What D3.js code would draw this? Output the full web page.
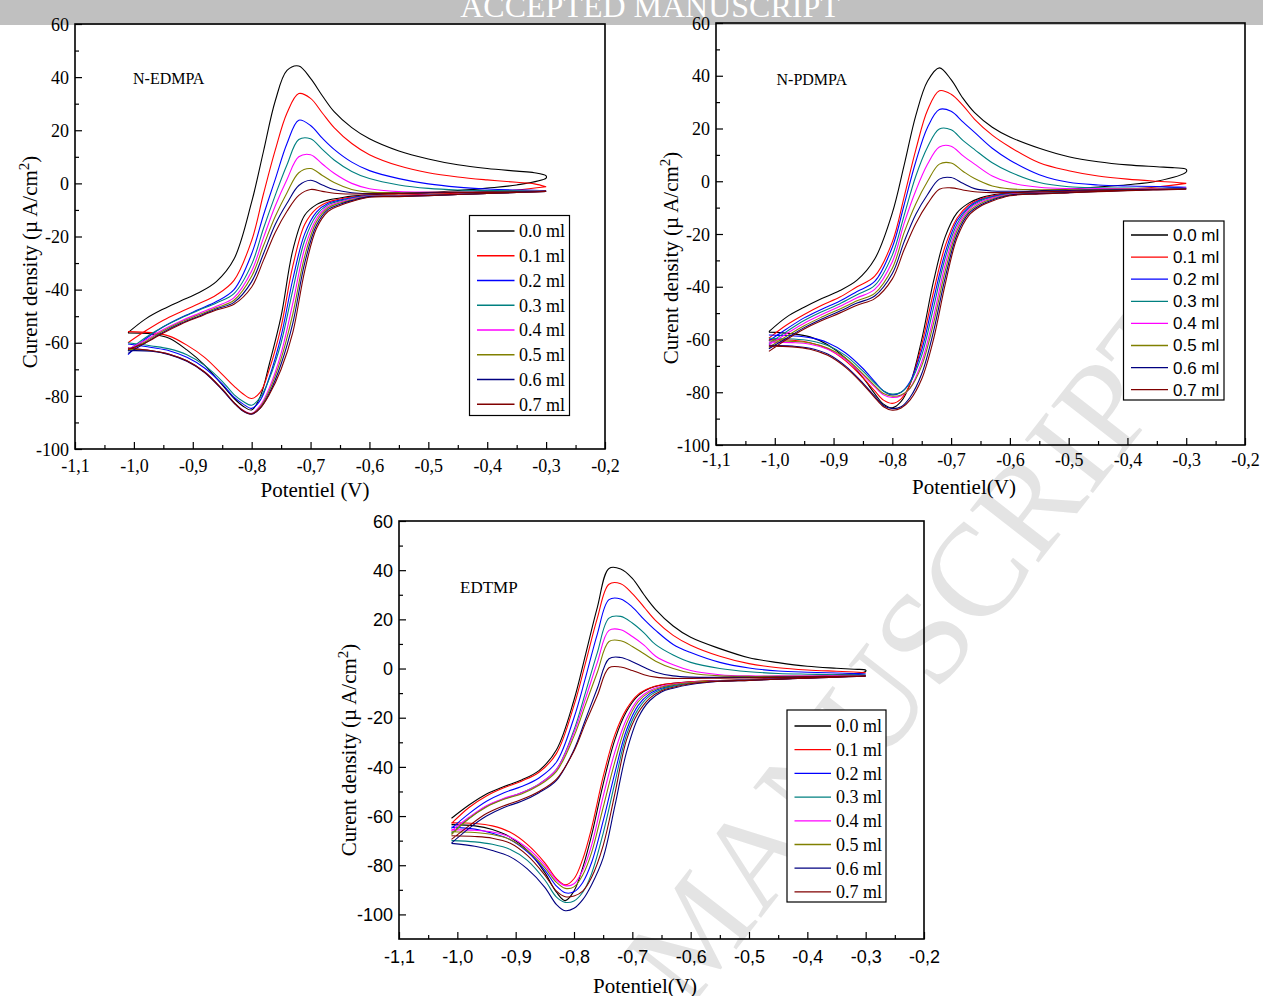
<!DOCTYPE html>
<html>
<head>
<meta charset="utf-8">
<script src="https://cdn.jsdelivr.net/npm/d3@7"></script>
<style>
    body { margin: 0; background: #ffffff; }
    svg { display: block; }
</style>
</head>
<body>
<div id="figure"></div>
<script>
/* * * * * * * * * * * * * *
*   cyclic voltammograms    *
* * * * * * * * * * * * * */

// potential grid (V) of the forward and the reverse scan
const potentialFwd = [-1.01, -0.98, -0.95, -0.92, -0.89, -0.86, -0.83, -0.80, -0.78, -0.76, -0.74, -0.72,
    -0.70, -0.68, -0.66, -0.63, -0.60, -0.55, -0.50, -0.45, -0.40, -0.35, -0.32, -0.30];
const potentialRev = [-0.30, -0.35, -0.40, -0.45, -0.50, -0.55, -0.60, -0.63, -0.65, -0.67, -0.69, -0.71,
    -0.73, -0.75, -0.77, -0.785, -0.80, -0.815, -0.83, -0.85, -0.88, -0.91, -0.94, -0.97, -1.01];

// added volume, one curve each
const volumes = ["0.0 ml", "0.1 ml", "0.2 ml", "0.3 ml", "0.4 ml", "0.5 ml", "0.6 ml", "0.7 ml"];

// N-EDMPA current density (µA/cm2)
const edmpaFwd = [
    [-56.2, -51.0, -47.3, -44.2, -41.2, -37.0, -28.5, -7.0, 12.0, 31.0, 42.5, 44.2, 39.5, 33.0, 27.0, 21.0, 16.8, 12.2, 9.2, 7.0, 5.6, 4.6, 4.0, 2.8],
    [-60.0, -55.5, -51.5, -48.3, -45.3, -42.0, -36.5, -21.5, -4.0, 12.5, 26.5, 33.8, 32.0, 26.5, 21.0, 15.0, 10.8, 6.6, 4.0, 2.4, 1.3, 0.4, -0.2, -1.3],
    [-64.5, -58.5, -54.0, -50.5, -47.5, -44.5, -40.0, -26.5, -12.0, 1.5, 15.0, 23.8, 21.8, 17.0, 12.8, 8.0, 4.8, 1.8, -0.2, -1.4, -2.1, -2.5, -2.6, -2.8],
    [-63.0, -58.0, -54.0, -50.7, -47.8, -45.0, -41.5, -30.5, -17.0, -4.5, 7.0, 16.5, 16.8, 12.8, 8.8, 4.5, 1.8, -0.6, -1.9, -2.5, -2.7, -2.8, -2.9, -3.0],
    [-62.5, -59.0, -55.0, -51.8, -49.0, -46.3, -43.0, -33.0, -20.5, -8.5, 1.5, 10.0, 10.8, 7.3, 3.8, 0.0, -2.0, -3.1, -3.3, -3.3, -3.2, -3.1, -3.0, -3.0],
    [-63.0, -59.5, -55.5, -52.2, -49.5, -46.8, -44.0, -35.0, -23.5, -12.5, -3.5, 4.0, 5.6, 3.0, 0.3, -2.3, -3.3, -3.5, -3.4, -3.3, -3.2, -3.1, -3.0, -3.0],
    [-64.0, -60.0, -56.0, -52.7, -50.0, -47.3, -44.8, -37.0, -26.5, -15.5, -7.5, -0.8, 1.2, -0.6, -2.3, -3.5, -3.8, -3.7, -3.5, -3.4, -3.3, -3.2, -3.1, -3.0],
    [-62.5, -60.0, -56.3, -53.0, -50.3, -47.7, -45.5, -39.0, -29.0, -18.5, -10.5, -4.5, -2.3, -3.0, -3.7, -4.0, -4.0, -3.8, -3.6, -3.5, -3.4, -3.3, -3.2, -3.0]
];
const edmpaRev = [
    [2.0, -0.6, -1.8, -2.7, -3.5, -3.9, -4.3, -4.8, -5.5, -6.3, -8.0, -12.0, -25.0, -50.0, -68.0, -80.0, -85.3, -83.8, -80.9, -75.9, -68.4, -62.7, -58.3, -56.7, -56.3],
    [-1.3, -2.5, -3.2, -3.7, -4.1, -4.4, -4.5, -5.1, -5.9, -7.0, -9.5, -15.5, -31.0, -54.0, -70.0, -78.5, -81.0, -79.2, -76.3, -71.9, -65.5, -60.9, -57.5, -56.2, -55.8],
    [-2.8, -3.3, -3.7, -4.1, -4.4, -4.6, -4.6, -5.4, -6.3, -7.5, -10.8, -19.0, -36.0, -57.5, -73.0, -81.5, -84.7, -83.0, -80.5, -75.5, -69.5, -65.5, -63.0, -61.8, -60.5],
    [-3.0, -3.4, -3.8, -4.2, -4.5, -4.7, -4.7, -5.6, -6.6, -8.0, -12.0, -21.5, -40.0, -60.0, -73.5, -80.5, -83.5, -82.0, -79.5, -74.5, -68.5, -64.5, -62.3, -61.2, -60.0],
    [-3.0, -3.4, -3.8, -4.2, -4.5, -4.7, -4.8, -5.9, -7.0, -8.6, -13.3, -24.5, -45.0, -64.0, -77.0, -83.5, -86.6, -85.3, -82.5, -77.5, -71.0, -66.8, -64.3, -63.0, -62.0],
    [-3.0, -3.4, -3.8, -4.2, -4.5, -4.8, -4.9, -6.2, -7.4, -9.2, -14.5, -27.5, -49.0, -66.0, -78.0, -84.0, -86.7, -85.5, -82.5, -77.5, -71.0, -66.8, -64.3, -63.0, -62.5],
    [-3.0, -3.4, -3.8, -4.2, -4.6, -4.9, -5.0, -6.5, -7.9, -9.8, -15.8, -30.0, -52.5, -68.0, -79.0, -84.5, -86.9, -85.7, -82.7, -77.7, -71.2, -67.0, -64.5, -63.2, -63.0],
    [-3.0, -3.4, -3.8, -4.2, -4.6, -5.0, -5.2, -6.8, -8.3, -10.5, -17.0, -33.0, -56.0, -70.0, -79.5, -84.5, -86.8, -85.5, -82.5, -77.5, -71.0, -66.8, -64.3, -63.0, -62.0]
];

// N-PDMPA current density (µA/cm2)
const pdmpaFwd = [
    [-57.0, -51.5, -47.8, -44.5, -41.5, -37.5, -29.5, -12.0, 6.0, 25.0, 38.0, 43.0, 38.5, 31.5, 26.0, 20.5, 16.8, 12.5, 9.3, 7.4, 6.2, 5.5, 5.1, 4.5],
    [-59.5, -54.5, -50.5, -47.0, -44.0, -40.0, -36.0, -23.0, -6.0, 12.0, 27.0, 34.3, 33.0, 28.8, 23.5, 17.5, 13.0, 7.0, 4.0, 2.0, 0.8, 0.0, -0.4, -0.8],
    [-60.5, -56.0, -51.8, -48.5, -45.5, -41.8, -38.0, -25.0, -9.0, 7.5, 20.5, 27.2, 26.5, 22.5, 18.5, 12.5, 8.0, 2.5, -0.4, -1.4, -1.8, -2.0, -2.2, -2.3],
    [-61.5, -57.0, -52.8, -49.5, -46.5, -43.0, -39.5, -28.0, -13.0, 2.0, 13.0, 19.8, 19.5, 15.5, 12.0, 7.0, 3.5, -0.5, -2.1, -2.5, -2.6, -2.7, -2.7, -2.7],
    [-62.0, -57.8, -53.8, -50.5, -47.5, -44.2, -41.0, -30.5, -16.0, -3.5, 6.5, 13.0, 13.3, 9.7, 6.5, 2.0, -0.5, -2.3, -2.8, -2.8, -2.8, -2.8, -2.8, -2.7],
    [-63.0, -58.8, -54.8, -51.5, -48.5, -45.3, -42.5, -33.0, -19.5, -8.5, 0.0, 6.5, 6.9, 3.8, 1.0, -1.8, -2.9, -3.2, -3.2, -3.1, -3.0, -3.0, -2.9, -2.8],
    [-63.5, -59.5, -55.5, -52.2, -49.3, -46.2, -43.5, -35.0, -23.0, -12.5, -5.0, 0.8, 1.4, -0.8, -2.8, -3.7, -3.8, -3.7, -3.5, -3.3, -3.2, -3.1, -3.0, -2.9],
    [-64.5, -60.0, -56.0, -52.8, -50.0, -47.0, -44.5, -37.0, -26.0, -16.0, -8.5, -3.0, -2.5, -3.3, -4.0, -4.3, -4.3, -4.0, -3.8, -3.6, -3.4, -3.2, -3.1, -3.0]
];
const pdmpaRev = [
    [3.5, 0.0, -1.3, -2.2, -3.0, -3.6, -4.5, -5.2, -6.3, -8.3, -12.0, -21.0, -38.0, -60.0, -77.0, -83.5, -85.9, -84.5, -80.5, -74.5, -67.0, -62.0, -59.0, -57.8, -57.2],
    [-0.8, -2.2, -3.0, -3.5, -3.9, -4.3, -4.6, -5.5, -6.7, -9.0, -14.0, -24.5, -42.0, -62.0, -77.0, -82.5, -84.2, -83.0, -79.5, -74.5, -68.0, -63.5, -61.2, -60.3, -60.0],
    [-2.3, -2.8, -3.2, -3.6, -4.0, -4.4, -4.7, -5.8, -7.0, -9.7, -15.0, -27.0, -45.0, -64.0, -76.0, -80.0, -81.0, -79.5, -76.0, -71.0, -65.0, -61.2, -59.3, -58.6, -58.3],
    [-2.7, -3.0, -3.3, -3.7, -4.1, -4.5, -4.8, -6.0, -7.4, -10.2, -16.3, -29.0, -48.0, -66.0, -76.5, -80.0, -80.7, -79.5, -76.5, -72.0, -66.0, -62.3, -60.5, -59.8, -59.5],
    [-2.7, -3.0, -3.3, -3.7, -4.1, -4.5, -4.9, -6.3, -7.9, -10.8, -17.5, -31.5, -51.5, -68.5, -78.5, -81.3, -82.0, -81.0, -78.0, -73.5, -67.5, -63.7, -61.8, -61.2, -61.0],
    [-2.8, -3.1, -3.4, -3.8, -4.2, -4.6, -5.1, -6.7, -8.4, -11.5, -18.8, -34.0, -54.0, -70.0, -78.5, -81.0, -81.5, -80.5, -77.5, -73.0, -67.0, -63.2, -61.3, -60.7, -60.5],
    [-2.9, -3.2, -3.5, -3.9, -4.3, -4.7, -5.3, -7.1, -9.0, -12.2, -20.2, -36.5, -57.0, -73.0, -82.0, -85.5, -86.2, -85.0, -81.5, -76.5, -70.0, -65.5, -63.3, -62.5, -62.2],
    [-3.0, -3.3, -3.6, -4.0, -4.4, -4.8, -5.5, -7.5, -9.5, -13.0, -21.5, -39.0, -60.0, -75.0, -83.0, -86.0, -86.8, -85.5, -82.0, -77.0, -70.5, -66.0, -63.7, -62.8, -62.5]
];

// EDTMP current density (µA/cm2)
const edtmpFwd = [
    [-60.9, -55.5, -51.0, -48.0, -45.3, -41.5, -33.0, -12.8, 5.9, 24.9, 40.7, 40.5, 36.7, 30.0, 24.0, 17.3, 12.7, 8.1, 4.4, 2.4, 0.9, 0.1, -0.3, -0.6],
    [-63.0, -56.5, -51.8, -48.5, -45.8, -42.2, -34.5, -15.0, 2.5, 20.5, 34.3, 34.5, 30.5, 25.0, 19.5, 13.5, 9.5, 5.0, 2.0, 0.3, -0.6, -1.1, -1.4, -1.7],
    [-65.0, -59.0, -54.0, -50.5, -48.0, -44.5, -38.0, -20.0, -3.5, 14.0, 28.0, 28.3, 25.0, 20.0, 15.5, 9.8, 6.5, 2.5, 0.2, -1.0, -1.5, -1.8, -2.0, -2.2],
    [-67.0, -61.0, -56.0, -53.0, -50.5, -47.0, -41.0, -25.0, -9.5, 6.5, 20.5, 21.2, 18.5, 14.5, 9.7, 5.5, 2.5, 0.0, -1.3, -2.0, -2.3, -2.5, -2.6, -2.7],
    [-66.0, -60.5, -55.8, -52.8, -50.5, -47.0, -41.0, -26.0, -12.0, 2.5, 15.5, 15.8, 13.0, 9.5, 5.0, 1.5, -0.8, -2.5, -3.0, -3.0, -3.0, -3.0, -3.0, -3.0],
    [-67.5, -61.0, -56.3, -53.2, -51.0, -47.5, -41.8, -27.5, -14.5, -1.5, 11.0, 11.3, 9.0, 6.0, 3.0, 0.0, -1.8, -3.0, -3.2, -3.2, -3.2, -3.2, -3.1, -3.0],
    [-71.0, -65.0, -60.0, -56.5, -54.0, -50.5, -45.5, -33.0, -20.5, -8.0, 4.0, 4.5, 2.8, 0.5, -1.5, -3.0, -3.5, -3.6, -3.6, -3.5, -3.4, -3.3, -3.2, -3.1],
    [-69.5, -64.0, -59.0, -55.8, -53.3, -50.0, -45.0, -33.5, -22.0, -11.0, 0.3, 0.6, -0.8, -2.5, -3.5, -4.0, -4.0, -3.9, -3.8, -3.6, -3.4, -3.3, -3.2, -3.1]
];
const edtmpRev = [
    [-1.2, -2.6, -3.4, -4.0, -4.5, -4.9, -5.4, -6.0, -6.7, -8.0, -11.0, -17.5, -29.0, -47.0, -68.0, -81.0, -90.5, -94.4, -91.0, -83.0, -74.0, -68.5, -65.5, -64.0, -63.5],
    [-1.7, -2.8, -3.4, -4.0, -4.5, -4.9, -5.4, -6.0, -6.6, -7.9, -10.5, -16.5, -27.0, -44.0, -65.0, -77.5, -85.5, -88.0, -85.5, -79.0, -71.5, -66.5, -64.0, -63.0, -62.7],
    [-2.2, -3.0, -3.6, -4.1, -4.6, -5.0, -5.8, -6.9, -8.0, -10.2, -15.0, -25.0, -42.5, -62.0, -79.0, -87.0, -90.8, -91.2, -88.5, -82.0, -74.5, -69.5, -67.0, -65.3, -64.5],
    [-2.7, -3.3, -3.8, -4.3, -4.7, -5.1, -6.0, -7.2, -8.5, -11.0, -16.5, -27.0, -46.5, -67.0, -83.5, -91.0, -94.5, -95.1, -93.0, -86.0, -78.0, -73.5, -71.5, -70.5, -70.0],
    [-3.0, -3.4, -3.8, -4.3, -4.7, -5.1, -5.6, -6.4, -7.2, -8.9, -12.5, -20.5, -34.0, -52.0, -72.0, -82.0, -87.5, -88.3, -86.0, -80.0, -73.0, -68.5, -66.5, -65.8, -65.5],
    [-3.0, -3.4, -3.8, -4.3, -4.7, -5.1, -5.7, -6.6, -7.6, -9.5, -13.5, -22.5, -38.0, -56.5, -75.0, -84.0, -88.8, -89.4, -87.0, -81.0, -74.0, -69.5, -67.5, -66.7, -66.4],
    [-3.1, -3.5, -3.9, -4.3, -4.8, -5.2, -6.5, -8.0, -9.5, -13.0, -20.0, -34.0, -56.0, -77.0, -88.0, -94.0, -97.5, -98.5, -96.0, -89.0, -81.5, -76.5, -74.0, -72.3, -71.1],
    [-3.1, -3.5, -3.9, -4.3, -4.8, -5.2, -6.2, -7.6, -9.0, -12.0, -18.0, -29.0, -51.0, -72.0, -85.0, -90.5, -92.5, -92.8, -90.5, -84.0, -76.0, -71.0, -69.0, -68.3, -68.0]
];

// tick values
const xTicks = [-1.1, -1.0, -0.9, -0.8, -0.7, -0.6, -0.5, -0.4, -0.3, -0.2];
const yTicks = [-100, -80, -60, -40, -20, 0, 20, 40, 60];

// curve colours, same order as volumes
const lineColors = ["#000000", "#ff0000", "#0000ff", "#008080", "#ff00ff", "#808000", "#000080", "#800000"];

const SERIF = "'Liberation Serif', 'Times New Roman', serif";
const SANS = "'Liberation Sans', Arial, sans-serif";

class CvPanel {

    constructor(svg, config, fwdData, revData){
        this.svg = svg;
        this.config = config;
        this.fwdData = fwdData;
        this.revData = revData;
        this.initVis()
    }

    initVis() {
        let vis = this;
        let c = vis.config;

        // scales
        vis.x = d3.scaleLinear().domain([-1.1, -0.2]).range([c.left, c.right]);
        vis.y = d3.scaleLinear().domain(c.yDomain).range([c.bottom, c.top]);

        vis.g = vis.svg.append("g").attr("class", "panel");

        // one path per curve: forward scan then reverse scan
        vis.curves = vis.fwdData.map((fwd, i) => {
            let pts = potentialFwd.map((v, j) => [v, fwd[j]]);
            let back = potentialRev.map((v, j) => [v, vis.revData[i][j]]);
            return {label: volumes[i], color: lineColors[i], points: pts.concat(back)};
        });

        vis.line = d3.line()
            .x(d => vis.x(d[0]))
            .y(d => vis.y(d[1]))
            .curve(d3.curveCatmullRom.alpha(0.5));

        vis.g.selectAll(".cv")
            .data(vis.curves)
            .enter()
            .append("path")
            .attr("class", "cv")
            .attr("d", d => vis.line(d.points))
            .attr("fill", "none")
            .attr("stroke", d => d.color)
            .attr("stroke-width", 1.1);

        // minor ticks
        let xMinor = xTicks.slice(0, -1).map(t => t + 0.05);
        let yMinor = d3.range(-90, 60, 20);

        vis.g.append("g")
            .attr("transform", `translate(0,${c.bottom})`)
            .call(d3.axisBottom(vis.x).tickValues(xMinor).tickSize(-4).tickFormat(""))
            .call(g => g.select(".domain").remove());
        vis.g.append("g")
            .attr("transform", `translate(${c.left},0)`)
            .call(d3.axisLeft(vis.y).tickValues(yMinor).tickSize(-4).tickFormat(""))
            .call(g => g.select(".domain").remove());

        // major ticks and labels
        let xAxis = vis.g.append("g")
            .attr("transform", `translate(0,${c.bottom})`)
            .call(d3.axisBottom(vis.x).tickValues(xTicks).tickSize(-7).tickPadding(c.xPad)
                .tickFormat(d => d.toFixed(1).replace(".", ",")))
            .call(g => g.select(".domain").remove());
        let yAxis = vis.g.append("g")
            .attr("transform", `translate(${c.left},0)`)
            .call(d3.axisLeft(vis.y).tickValues(yTicks).tickSize(-7).tickPadding(c.yPad)
                .tickFormat(d => String(d)))
            .call(g => g.select(".domain").remove());

        vis.g.selectAll(".tick line").attr("stroke", "#000").attr("stroke-width", 1.2);
        [xAxis, yAxis].forEach(ax => ax.selectAll("text")
            .attr("fill", "#000")
            .style("font-family", c.tickFont)
            .style("font-size", "18px"));
        yAxis.selectAll("text").attr("dy", "0.34em");

        // frame
        vis.g.append("rect")
            .attr("x", c.left)
            .attr("y", c.top)
            .attr("width", c.right - c.left)
            .attr("height", c.bottom - c.top)
            .attr("fill", "none")
            .attr("stroke", "#000")
            .attr("stroke-width", 1.6);

        // axis titles
        vis.g.append("text")
            .attr("x", c.xTitle[0])
            .attr("y", c.xTitle[1])
            .attr("text-anchor", "middle")
            .style("font-family", SERIF)
            .style("font-size", "21px")
            .text(c.xTitleText);

        let yt = vis.g.append("text")
            .attr("transform", `translate(${c.yTitle[0]},${c.yTitle[1]}) rotate(-90)`)
            .attr("text-anchor", "middle")
            .style("font-family", SERIF)
            .style("font-size", "21px");
        yt.append("tspan").text("Curent density (\u00b5 A/cm");
        yt.append("tspan").attr("dy", -8).style("font-size", "15px").text("2");
        yt.append("tspan").attr("dy", 8).text(")");

        // compound label
        vis.g.append("text")
            .attr("x", c.name[0])
            .attr("y", c.name[1])
            .style("font-family", SERIF)
            .style("font-size", c.nameSize + "px")
            .text(c.nameText);

        // legend
        let lg = c.legend;
        let legend = vis.g.append("g").attr("class", "legend");
        legend.append("rect")
            .attr("x", lg.x)
            .attr("y", lg.y)
            .attr("width", lg.w)
            .attr("height", lg.h)
            .attr("fill", "#fff")
            .attr("stroke", "#000")
            .attr("stroke-width", 1.2);

        let item = legend.selectAll(".item")
            .data(vis.curves)
            .enter()
            .append("g")
            .attr("class", "item")
            .attr("transform", (d, i) => `translate(0,${lg.y0 + i * lg.dy})`);
        item.append("line")
            .attr("x1", lg.x1)
            .attr("x2", lg.x2)
            .attr("stroke", d => d.color)
            .attr("stroke-width", 1.3);
        item.append("text")
            .attr("x", lg.tx)
            .attr("dy", "0.35em")
            .style("font-family", lg.font)
            .style("font-size", lg.size + "px")
            .text(d => d.label);
    }
}

// drawing area
let svg = d3.select("#figure").append("svg")
    .attr("width", 1263)
    .attr("height", 996);

svg.append("rect").attr("width", 1263).attr("height", 996).attr("fill", "#fff");

// diagonal watermark
svg.append("text")
    .attr("transform", "translate(950,676) rotate(-52)")
    .attr("text-anchor", "middle")
    .attr("fill", "#e4e4e4")
    .style("font-family", SERIF)
    .style("font-size", "132px")
    .text("MANUSCRIPT");

// header band
svg.append("rect").attr("width", 1263).attr("height", 25).attr("fill", "#c0c0c0");
svg.append("text")
    .attr("x", 650)
    .attr("y", 17)
    .attr("text-anchor", "middle")
    .attr("fill", "#fff")
    .style("font-family", SERIF)
    .style("font-size", "32px")
    .text("ACCEPTED MANUSCRIPT");

new CvPanel(svg, {
    left: 75, right: 605, top: 24, bottom: 449, yDomain: [-100, 60],
    tickFont: SERIF, xPad: 10, yPad: 6,
    xTitle: [315, 497], xTitleText: "Potentiel (V)", yTitle: [37, 262],
    name: [133, 84], nameText: "N-EDMPA", nameSize: 16,
    legend: {x: 469.5, y: 215.5, w: 100, h: 200, y0: 231, dy: 24.75, x1: 477, x2: 514.5, tx: 519, font: SERIF, size: 18}
}, edmpaFwd, edmpaRev);

new CvPanel(svg, {
    left: 716, right: 1245, top: 23, bottom: 445, yDomain: [-100, 60],
    tickFont: SERIF, xPad: 8, yPad: 6,
    xTitle: [964, 494], xTitleText: "Potentiel(V)", yTitle: [678, 258],
    name: [776.5, 85], nameText: "N-PDMPA", nameSize: 16,
    legend: {x: 1123.5, y: 221, w: 100.5, h: 179, y0: 235, dy: 22.1, x1: 1131, x2: 1168, tx: 1173, font: SANS, size: 17}
}, pdmpaFwd, pdmpaRev);

new CvPanel(svg, {
    left: 399, right: 924, top: 521, bottom: 939, yDomain: [-110, 60],
    tickFont: SANS, xPad: 11, yPad: 6,
    xTitle: [645, 993], xTitleText: "Potentiel(V)", yTitle: [356, 750],
    name: [460, 593], nameText: "EDTMP", nameSize: 17,
    legend: {x: 787, y: 710, w: 99, h: 192, y0: 726, dy: 23.7, x1: 794.5, x2: 831, tx: 836, font: SERIF, size: 18}
}, edtmpFwd, edtmpRev);
</script>
</body>
</html>
